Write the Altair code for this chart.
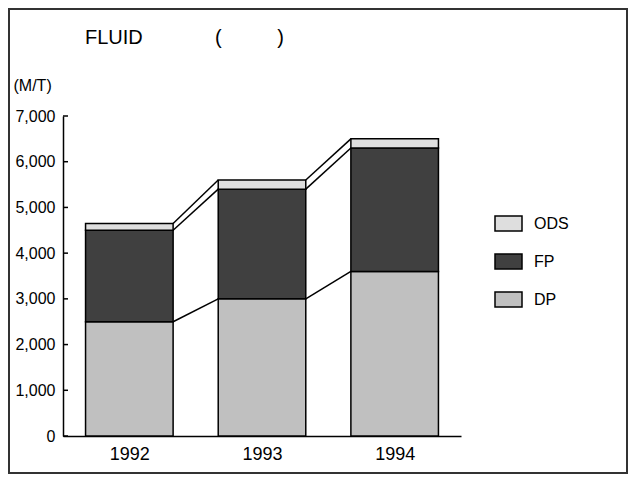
import altair as alt
import pandas as pd

# ---- data ----
YEARS = [1992, 1993, 1994]
DP = [2500, 3000, 3600]
FP = [2000, 2400, 2700]
ODS = [150, 200, 200]
SERIES = ["ODS", "FP", "DP"]
COLORS = ["#dedede", "#404040", "#c0c0c0"]
Y_TICKS = [0, 1000, 2000, 3000, 4000, 5000, 6000, 7000]
NB = "\u00a0"
TITLE = "FLUID" + NB * 13 + "(" + NB * 10 + ")"
Y_UNIT = "(M/T)"

FONT = "Liberation Sans"
HALF = 0.33  # half bar width in year units

# stacked rows (DP bottom, FP, ODS top)
stack_order = [("DP", DP), ("FP", FP), ("ODS", ODS)]
rows = []
tops = {}
for i, yr in enumerate(YEARS):
    base = 0
    for name, vals in stack_order:
        rows.append({"year": yr, "series": name, "y0": base, "y1": base + vals[i]})
        base += vals[i]
        tops[(yr, name)] = base
bars_df = pd.DataFrame(rows)

links = []
for i in range(len(YEARS) - 1):
    for name, _ in stack_order:
        links.append({"yfrom": YEARS[i], "yto": YEARS[i + 1],
                      "v0": tops[(YEARS[i], name)], "v1": tops[(YEARS[i + 1], name)]})
links_df = pd.DataFrame(links)

ticks_df = pd.DataFrame({"v": Y_TICKS})
title_df = pd.DataFrame({"t": [TITLE]})
frame_df = pd.DataFrame({"k": [0]})

xscale = alt.Scale(domain=[1991.5, 1994.5], nice=False, zero=False)
yscale = alt.Scale(domain=[0, 7000], nice=False)

xaxis = alt.Axis(values=YEARS, format="d", title=None, ticks=False, tickSize=0,
                 grid=False, labelFontSize=18, labelPadding=9, domainColor="black",
                 domainWidth=1.5, labelColor="black", labelFont=FONT)
yaxis = alt.Axis(values=Y_TICKS, format=",.0f", title=Y_UNIT, titleAngle=0,
                 titleX=-50, titleY=-31, titleAlign="left", titleBaseline="middle",
                 titleFontSize=16, titleFontWeight="normal", titleFont=FONT,
                 titleColor="black", ticks=False, tickSize=0, grid=False,
                 labelFontSize=16, labelPadding=8, labelColor="black",
                 labelFont=FONT, domainColor="black", domainWidth=1.5)

bars = alt.Chart(bars_df).transform_calculate(
    xa=f"datum.year - {HALF}", xb=f"datum.year + {HALF}"
).mark_rect(stroke="black", strokeWidth=1.5).encode(
    x=alt.X("xa:Q", scale=xscale, axis=xaxis),
    x2="xb:Q",
    y=alt.Y("y0:Q", scale=yscale, axis=yaxis),
    y2="y1:Q",
    color=alt.Color("series:N", scale=alt.Scale(domain=SERIES, range=COLORS),
                    legend=alt.Legend(title=None, orient="none", legendX=431, legendY=93,
                                      padding=0, symbolType="M-1,-0.55H1V0.55H-1Z",
                                      symbolSize=729, symbolStrokeColor="black",
                                      symbolStrokeWidth=1.5, symbolOpacity=1,
                                      labelFontSize=16, labelFont=FONT, labelColor="black",
                                      labelOffset=11, rowPadding=13)),
    order=alt.Order("y0:Q"),
)

connectors = alt.Chart(links_df).transform_calculate(
    xa=f"datum.yfrom + {HALF}", xb=f"datum.yto - {HALF}"
).mark_rule(color="black", strokeWidth=1.5).encode(
    x=alt.X("xa:Q", scale=xscale, axis=xaxis),
    x2="xb:Q",
    y=alt.Y("v0:Q", scale=yscale, axis=yaxis),
    y2="v1:Q",
)

yticks = alt.Chart(ticks_df).mark_rule(color="black", strokeWidth=1.5).encode(
    x=alt.value(0), x2=alt.value(5),
    y=alt.Y("v:Q", scale=yscale, axis=yaxis),
)

title = alt.Chart(title_df).mark_text(align="left", baseline="middle", fontSize=20,
                                      font=FONT, color="black").encode(
    x=alt.value(22), y=alt.value(-78), text="t:N")

frame = alt.Chart(frame_df).mark_rect(fillOpacity=0, stroke="#333333", strokeWidth=2).encode(
    x=alt.value(-54), x2=alt.value(564), y=alt.value(-107), y2=alt.value(357))

chart = alt.layer(bars, connectors, yticks, title, frame).properties(
    width=398, height=320,
    autosize=alt.AutoSizeParams(type="none"),
    padding={"left": 55, "top": 108, "right": 167, "bottom": 38},
).configure(font=FONT, view=alt.ViewConfig(stroke=None))

chart.save("out.html", embed_options={"renderer": "svg", "actions": False})
